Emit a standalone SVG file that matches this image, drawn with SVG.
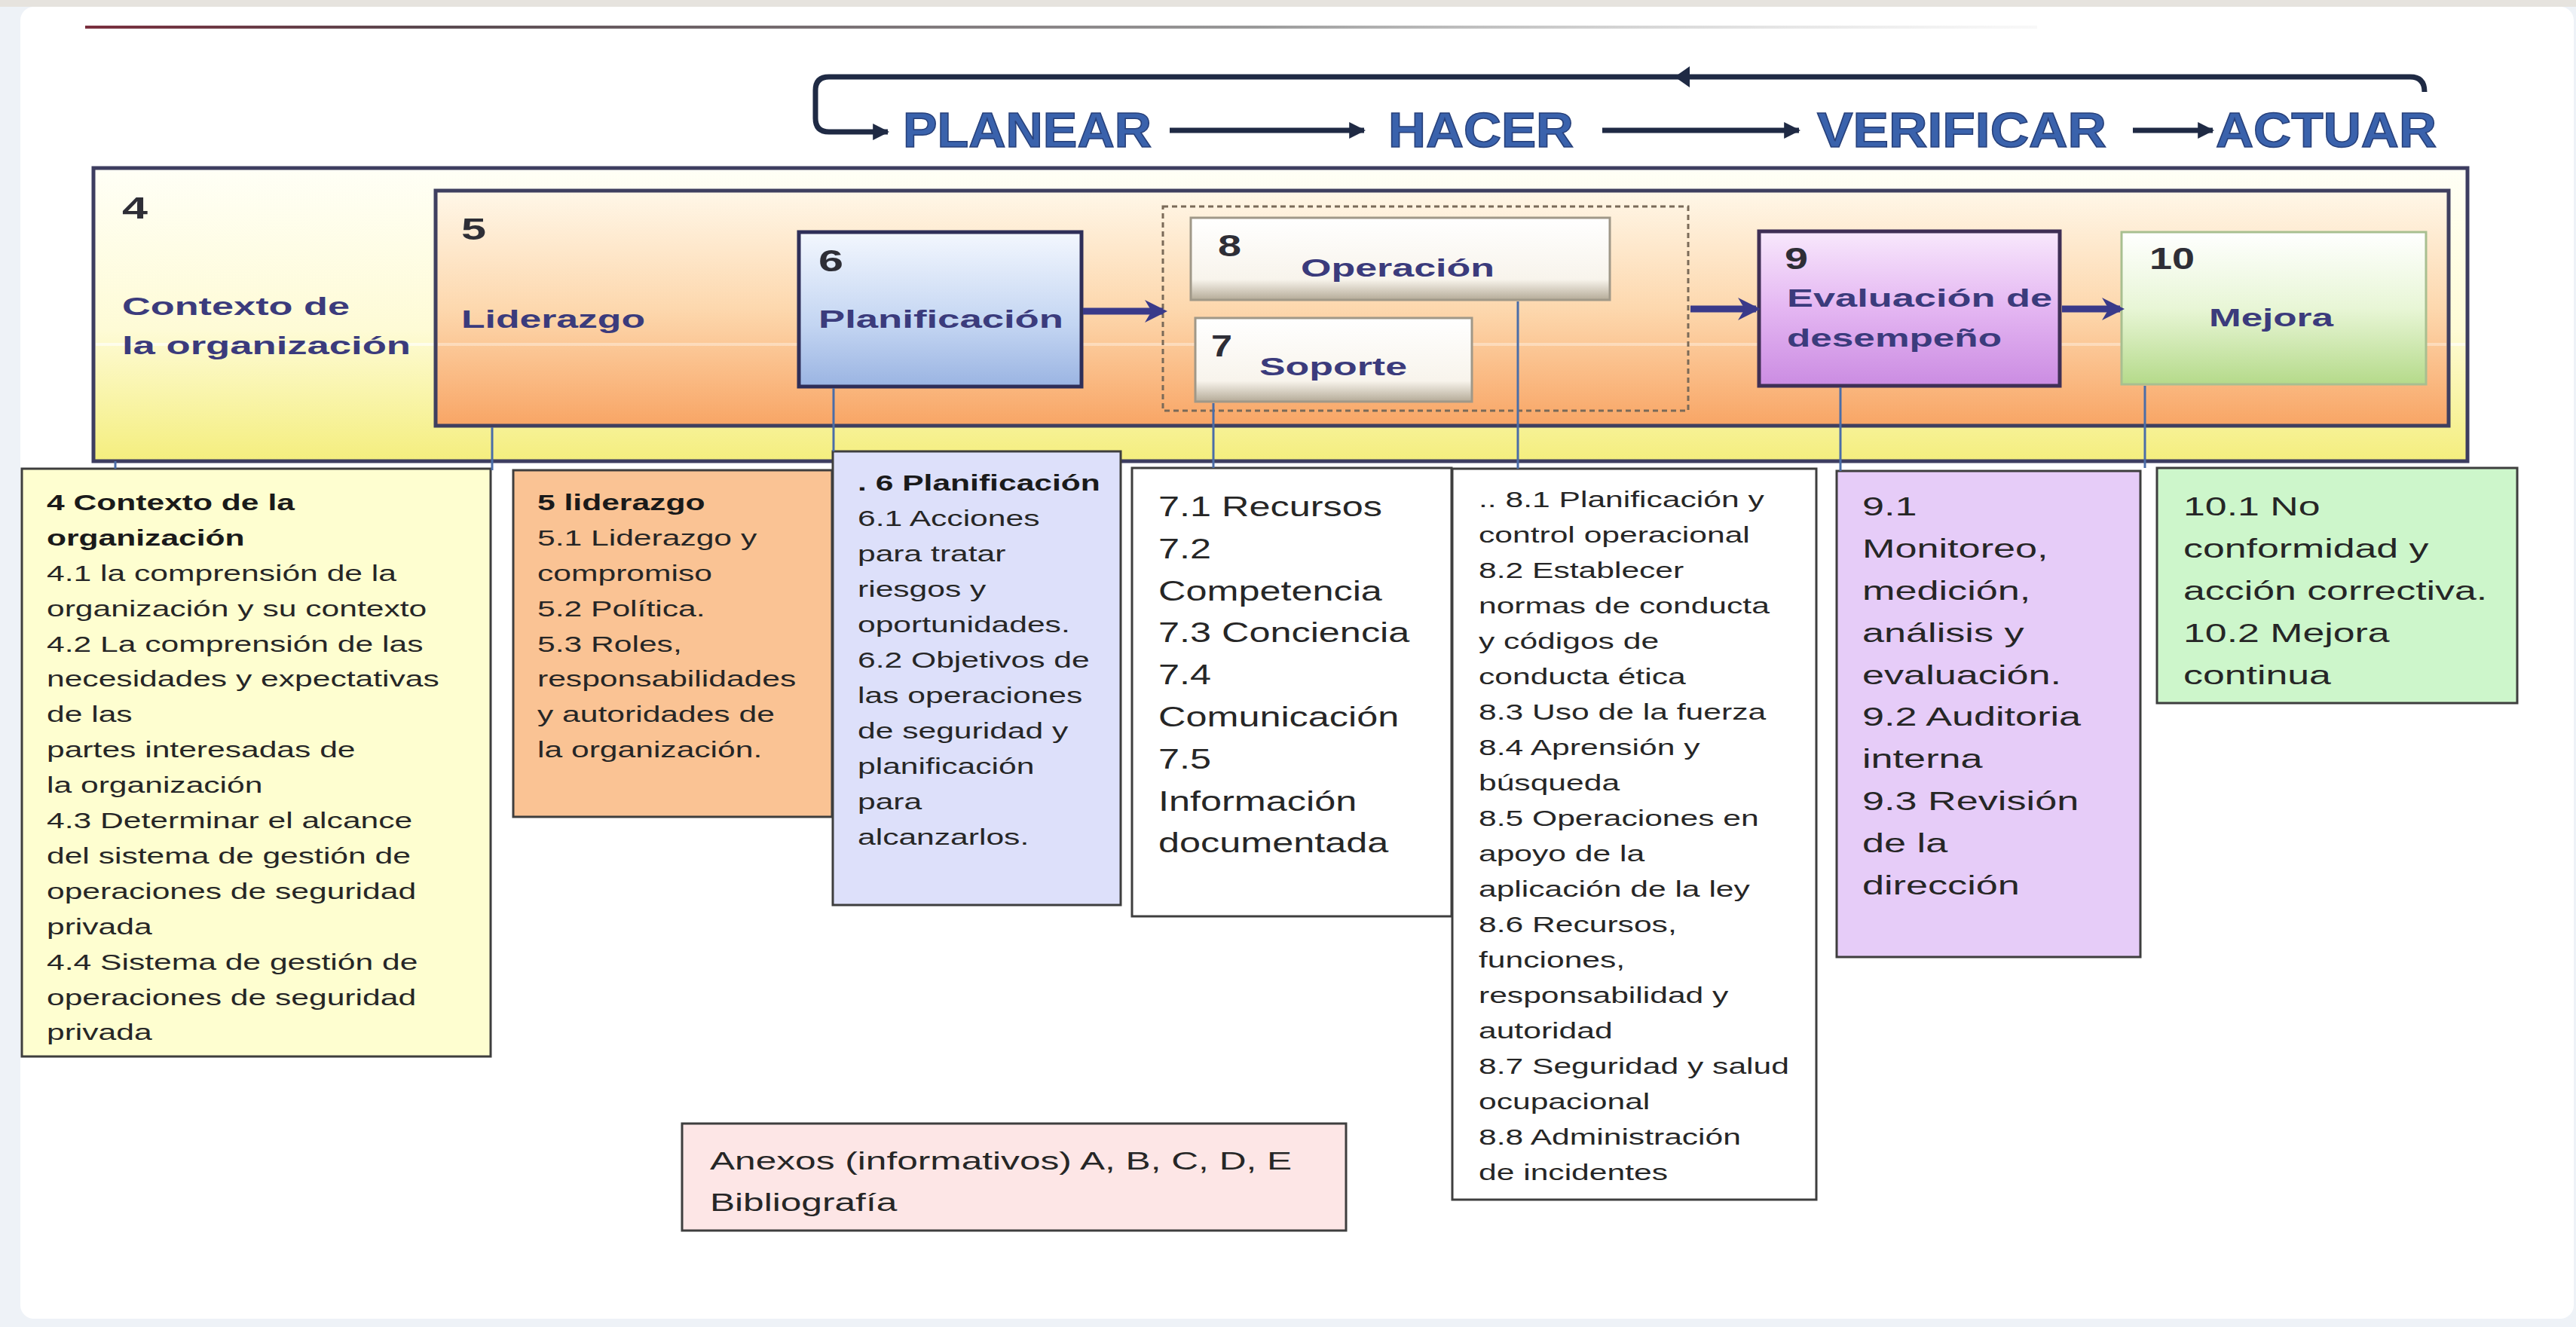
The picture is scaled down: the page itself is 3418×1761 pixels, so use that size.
<svg xmlns="http://www.w3.org/2000/svg" width="3418" height="1761" viewBox="0 0 3418 1761">
<style>
.hdr{font-family:"Liberation Sans",Arial,sans-serif;font-weight:bold;fill:#3B3B7C}
.num{font-family:"Liberation Sans",Arial,sans-serif;font-weight:bold;fill:#2E2E36;font-size:40px}
.pdca{font-family:"Liberation Sans",Arial,sans-serif;font-weight:bold;fill:#3A62AC;stroke:#27407A;stroke-width:1.5;font-size:64px}
.body{font-family:"Liberation Sans",Arial,sans-serif;fill:#262626;font-size:30px}
.big{font-size:36px}
.anx{font-size:34px}
.b{font-weight:bold;fill:#1A1A1A}
.tbox{stroke:#3E3E3E;stroke-width:3}
.conn{stroke:#4A6DA8;stroke-width:3;fill:none}
.pd{stroke:#1F2A44;stroke-width:7;fill:none}
.thick{stroke:#3A3A8A;stroke-width:9;fill:none}
</style>
<defs>
<linearGradient id="g4" x1="0" y1="0" x2="0" y2="1"><stop offset="0" stop-color="#FFFFF6"/><stop offset="0.55" stop-color="#FEFBD6"/><stop offset="1" stop-color="#F4EE7E"/></linearGradient>
<linearGradient id="g5" x1="0" y1="0" x2="0" y2="1"><stop offset="0" stop-color="#FFF7E8"/><stop offset="0.5" stop-color="#FDD8AE"/><stop offset="1" stop-color="#F8A565"/></linearGradient>
<linearGradient id="g6" x1="0" y1="0" x2="0" y2="1"><stop offset="0" stop-color="#F3F7FE"/><stop offset="0.6" stop-color="#C3D5F2"/><stop offset="1" stop-color="#9AB4E2"/></linearGradient>
<linearGradient id="g78" x1="0" y1="0" x2="0" y2="1"><stop offset="0" stop-color="#FFFFFF"/><stop offset="0.75" stop-color="#F8F4EC"/><stop offset="1" stop-color="#B5AB98"/></linearGradient>
<linearGradient id="g9" x1="0" y1="0" x2="0" y2="1"><stop offset="0" stop-color="#F8E8FC"/><stop offset="0.5" stop-color="#E4B6F2"/><stop offset="1" stop-color="#CB8CE2"/></linearGradient>
<linearGradient id="g10" x1="0" y1="0" x2="0" y2="1"><stop offset="0" stop-color="#FFFFFF"/><stop offset="0.5" stop-color="#E8F6D6"/><stop offset="1" stop-color="#B5DA8A"/></linearGradient>
<linearGradient id="gtop" gradientUnits="userSpaceOnUse" x1="113" y1="0" x2="2703" y2="0"><stop offset="0" stop-color="#7A2F3E"/><stop offset="0.18" stop-color="#5A4A50"/><stop offset="0.6" stop-color="#9A9A9A"/><stop offset="1" stop-color="#E8E8E8" stop-opacity="0.3"/></linearGradient>
<marker id="ah" viewBox="0 0 10 10" refX="9" refY="5" markerWidth="22" markerHeight="22" markerUnits="userSpaceOnUse" orient="auto"><path d="M0,0 L10,5 L0,10 z" fill="#1F2A44"/></marker>
<marker id="ahb" viewBox="0 0 10 10" refX="8" refY="5" markerWidth="30" markerHeight="30" markerUnits="userSpaceOnUse" orient="auto"><path d="M0,0 L10,5 L0,10 L3,5 z" fill="#3A3A8A"/></marker>
</defs>

<rect x="0" y="0" width="3418" height="1761" fill="#EEF2F7"/>
<rect x="0" y="0" width="3418" height="9" fill="#E6E3DE"/>
<rect x="27" y="9" width="3388" height="1741" rx="18" fill="#FFFFFF"/>
<rect x="113" y="34" width="2590" height="4" fill="url(#gtop)"/>

<g id="pdca">
<path class="pd" d="M3217,122 Q3217,102 3198,102 L1100,102 Q1082,102 1082,120 L1082,157 Q1082,175 1100,175 L1178,175" marker-end="url(#ah)"/>
<path d="M2222,102 L2242,88 L2242,116 z" fill="#1F2A44"/>
<text class="pdca" x="1198" y="195" textLength="330" lengthAdjust="spacingAndGlyphs">PLANEAR</text>
<text class="pdca" x="1842" y="195" textLength="246" lengthAdjust="spacingAndGlyphs">HACER</text>
<text class="pdca" x="2411" y="195" textLength="384" lengthAdjust="spacingAndGlyphs">VERIFICAR</text>
<text class="pdca" x="2940" y="195" textLength="293" lengthAdjust="spacingAndGlyphs">ACTUAR</text>
<line class="pd" x1="1552" y1="173" x2="1810" y2="173" marker-end="url(#ah)"/>
<line class="pd" x1="2126" y1="173" x2="2387" y2="173" marker-end="url(#ah)"/>
<line class="pd" x1="2830" y1="173" x2="2936" y2="173" marker-end="url(#ah)"/>
</g>

<g id="n4">
<rect x="124" y="223" width="3150" height="389" fill="url(#g4)" stroke="#3D3D60" stroke-width="5"/>
<line x1="127" y1="457" x2="3271" y2="457" stroke="#FFFFFF" stroke-opacity="0.6" stroke-width="4"/>
<text class="num" x="162" y="290" textLength="34" lengthAdjust="spacingAndGlyphs">4</text>
<text class="hdr" font-size="34" x="162" y="418" textLength="302" lengthAdjust="spacingAndGlyphs">Contexto de</text>
<text class="hdr" font-size="34" x="162" y="470" textLength="383" lengthAdjust="spacingAndGlyphs">la organización</text>
</g>

<g id="n5">
<rect x="578" y="253" width="2671" height="312" fill="url(#g5)" stroke="#3F3F5F" stroke-width="5"/>
<line x1="581" y1="457" x2="3246" y2="457" stroke="#FFFFFF" stroke-opacity="0.35" stroke-width="4"/>
<text class="num" x="612" y="318" textLength="33" lengthAdjust="spacingAndGlyphs">5</text>
<text class="hdr" font-size="34" x="612" y="435" textLength="244" lengthAdjust="spacingAndGlyphs">Liderazgo</text>
</g>

<g id="n6">
<rect x="1060" y="308" width="375" height="205" fill="url(#g6)" stroke="#2E2E58" stroke-width="5"/>
<text class="num" x="1086" y="360" textLength="33" lengthAdjust="spacingAndGlyphs">6</text>
<text class="hdr" font-size="34" x="1086" y="435" textLength="325" lengthAdjust="spacingAndGlyphs">Planificación</text>
</g>

<g id="grp78">
<rect x="1543" y="274" width="697" height="271" fill="none" stroke="#7A6A58" stroke-width="3" stroke-dasharray="7 5"/>
</g>

<g id="n8">
<rect x="1580" y="289" width="556" height="109" fill="url(#g78)" stroke="#A09888" stroke-width="3"/>
<text class="num" x="1616" y="340" textLength="31" lengthAdjust="spacingAndGlyphs">8</text>
<text class="hdr" font-size="34" x="1726" y="367" textLength="257" lengthAdjust="spacingAndGlyphs">Operación</text>
</g>

<g id="n7">
<rect x="1586" y="422" width="367" height="111" fill="url(#g78)" stroke="#A09888" stroke-width="3"/>
<text class="num" x="1607" y="473" textLength="28" lengthAdjust="spacingAndGlyphs">7</text>
<text class="hdr" font-size="34" x="1671" y="498" textLength="196" lengthAdjust="spacingAndGlyphs">Soporte</text>
</g>

<g id="n9">
<rect x="2334" y="307" width="399" height="205" fill="url(#g9)" stroke="#3F2F55" stroke-width="5"/>
<text class="num" x="2368" y="357" textLength="31" lengthAdjust="spacingAndGlyphs">9</text>
<text class="hdr" font-size="34" x="2371" y="407" textLength="352" lengthAdjust="spacingAndGlyphs">Evaluación de</text>
<text class="hdr" font-size="34" x="2371" y="460" textLength="285" lengthAdjust="spacingAndGlyphs">desempeño</text>
</g>

<g id="n10">
<rect x="2815" y="308" width="404" height="202" fill="url(#g10)" stroke="#A8BF90" stroke-width="3"/>
<text class="num" x="2852" y="357" textLength="60" lengthAdjust="spacingAndGlyphs">10</text>
<text class="hdr" font-size="34" x="2931" y="433" textLength="165" lengthAdjust="spacingAndGlyphs">Mejora</text>
</g>

<g id="t4">
<rect class="tbox" x="29" y="622" width="622" height="780" fill="#FEFED0"/>
<g transform="translate(62,0) scale(1.42,1)">
<text class="body" x="0" y="677"><tspan class="b" x="0">4 Contexto de la</tspan><tspan class="b" x="0" dy="46.9">organización</tspan><tspan x="0" dy="46.9">4.1 la comprensión de la</tspan><tspan x="0" dy="46.9">organización y su contexto</tspan><tspan x="0" dy="46.9">4.2 La comprensión de las</tspan><tspan x="0" dy="46.9">necesidades y expectativas</tspan><tspan x="0" dy="46.9">de las</tspan><tspan x="0" dy="46.9">partes interesadas de</tspan><tspan x="0" dy="46.9">la organización</tspan><tspan x="0" dy="46.9">4.3 Determinar el alcance</tspan><tspan x="0" dy="46.9">del sistema de gestión de</tspan><tspan x="0" dy="46.9">operaciones de seguridad</tspan><tspan x="0" dy="46.9">privada</tspan><tspan x="0" dy="46.9">4.4 Sistema de gestión de</tspan><tspan x="0" dy="46.9">operaciones de seguridad</tspan><tspan x="0" dy="46.9">privada</tspan></text>
</g>
</g>

<g id="t5">
<rect class="tbox" x="681" y="624" width="423" height="460" fill="#FAC394"/>
<g transform="translate(713,0) scale(1.42,1)">
<text class="body" x="0" y="677"><tspan class="b" x="0">5 liderazgo</tspan><tspan x="0" dy="46.9">5.1 Liderazgo y</tspan><tspan x="0" dy="46.9">compromiso</tspan><tspan x="0" dy="46.9">5.2 Política.</tspan><tspan x="0" dy="46.9">5.3 Roles,</tspan><tspan x="0" dy="46.9">responsabilidades</tspan><tspan x="0" dy="46.9">y autoridades de</tspan><tspan x="0" dy="46.9">la organización.</tspan></text>
</g>
</g>

<g id="t6">
<rect class="tbox" x="1105" y="599" width="382" height="602" fill="#DDE0FA"/>
<g transform="translate(1138,0) scale(1.42,1)">
<text class="body" x="0" y="651"><tspan class="b" x="0">. 6 Planificación</tspan><tspan x="0" dy="47">6.1 Acciones</tspan><tspan x="0" dy="47">para tratar</tspan><tspan x="0" dy="47">riesgos y</tspan><tspan x="0" dy="47">oportunidades.</tspan><tspan x="0" dy="47">6.2 Objetivos de</tspan><tspan x="0" dy="47">las operaciones</tspan><tspan x="0" dy="47">de seguridad y</tspan><tspan x="0" dy="47">planificación</tspan><tspan x="0" dy="47">para</tspan><tspan x="0" dy="47">alcanzarlos.</tspan></text>
</g>
</g>

<g id="t7">
<rect class="tbox" x="1502" y="621" width="424" height="595" fill="#FFFFFF"/>
<g transform="translate(1537,0) scale(1.40,1)">
<text class="body big" x="0" y="685"><tspan x="0">7.1 Recursos</tspan><tspan x="0" dy="55.8">7.2</tspan><tspan x="0" dy="55.8">Competencia</tspan><tspan x="0" dy="55.8">7.3 Conciencia</tspan><tspan x="0" dy="55.8">7.4</tspan><tspan x="0" dy="55.8">Comunicación</tspan><tspan x="0" dy="55.8">7.5</tspan><tspan x="0" dy="55.8">Información</tspan><tspan x="0" dy="55.8">documentada</tspan></text>
</g>
</g>

<g id="t8">
<rect class="tbox" x="1927" y="622" width="483" height="970" fill="#FFFFFF"/>
<g transform="translate(1962,0) scale(1.42,1)">
<text class="body" x="0" y="673"><tspan x="0">.. 8.1 Planificación y</tspan><tspan x="0" dy="47">control operacional</tspan><tspan x="0" dy="47">8.2 Establecer</tspan><tspan x="0" dy="47">normas de conducta</tspan><tspan x="0" dy="47">y códigos de</tspan><tspan x="0" dy="47">conducta ética</tspan><tspan x="0" dy="47">8.3 Uso de la fuerza</tspan><tspan x="0" dy="47">8.4 Aprensión y</tspan><tspan x="0" dy="47">búsqueda</tspan><tspan x="0" dy="47">8.5 Operaciones en</tspan><tspan x="0" dy="47">apoyo de la</tspan><tspan x="0" dy="47">aplicación de la ley</tspan><tspan x="0" dy="47">8.6 Recursos,</tspan><tspan x="0" dy="47">funciones,</tspan><tspan x="0" dy="47">responsabilidad y</tspan><tspan x="0" dy="47">autoridad</tspan><tspan x="0" dy="47">8.7 Seguridad y salud</tspan><tspan x="0" dy="47">ocupacional</tspan><tspan x="0" dy="47">8.8 Administración</tspan><tspan x="0" dy="47">de incidentes</tspan></text>
</g>
</g>

<g id="t9">
<rect class="tbox" x="2437" y="625" width="403" height="645" fill="#E6CCF8"/>
<g transform="translate(2471,0) scale(1.45,1)">
<text class="body big" x="0" y="684"><tspan x="0">9.1</tspan><tspan x="0" dy="55.9">Monitoreo,</tspan><tspan x="0" dy="55.9">medición,</tspan><tspan x="0" dy="55.9">análisis y</tspan><tspan x="0" dy="55.9">evaluación.</tspan><tspan x="0" dy="55.9">9.2 Auditoria</tspan><tspan x="0" dy="55.9">interna</tspan><tspan x="0" dy="55.9">9.3 Revisión</tspan><tspan x="0" dy="55.9">de la</tspan><tspan x="0" dy="55.9">dirección</tspan></text>
</g>
</g>

<g id="t10">
<rect class="tbox" x="2862" y="621" width="478" height="312" fill="#CDF6CB"/>
<g transform="translate(2897,0) scale(1.44,1)">
<text class="body big" x="0" y="684"><tspan x="0">10.1 No</tspan><tspan x="0" dy="56">conformidad y</tspan><tspan x="0" dy="56">acción correctiva.</tspan><tspan x="0" dy="56">10.2 Mejora</tspan><tspan x="0" dy="56">continua</tspan></text>
</g>
</g>

<g id="anexos">
<rect class="tbox" x="905" y="1491" width="881" height="142" fill="#FDE6E6"/>
<g transform="translate(942,0) scale(1.46,1)">
<text class="body anx" x="0" y="1552"><tspan x="0">Anexos (informativos) A, B, C, D, E</tspan><tspan x="0" dy="55">Bibliografía</tspan></text>
</g>
</g>

<g id="connectors">
<line class="thick" x1="1437" y1="413" x2="1543" y2="413" marker-end="url(#ahb)"/>
<line class="thick" x1="2243" y1="410" x2="2330" y2="410" marker-end="url(#ahb)"/>
<line class="thick" x1="2736" y1="410" x2="2813" y2="410" marker-end="url(#ahb)"/>
<line class="conn" x1="153" y1="612" x2="153" y2="622"/>
<line class="conn" x1="653" y1="567" x2="653" y2="624"/>
<line class="conn" x1="1106" y1="515" x2="1106" y2="599"/>
<line class="conn" x1="1610" y1="535" x2="1610" y2="621"/>
<line class="conn" x1="2014" y1="400" x2="2014" y2="622"/>
<line class="conn" x1="2442" y1="514" x2="2442" y2="625"/>
<line class="conn" x1="2846" y1="512" x2="2846" y2="621"/>
</g>
</svg>
